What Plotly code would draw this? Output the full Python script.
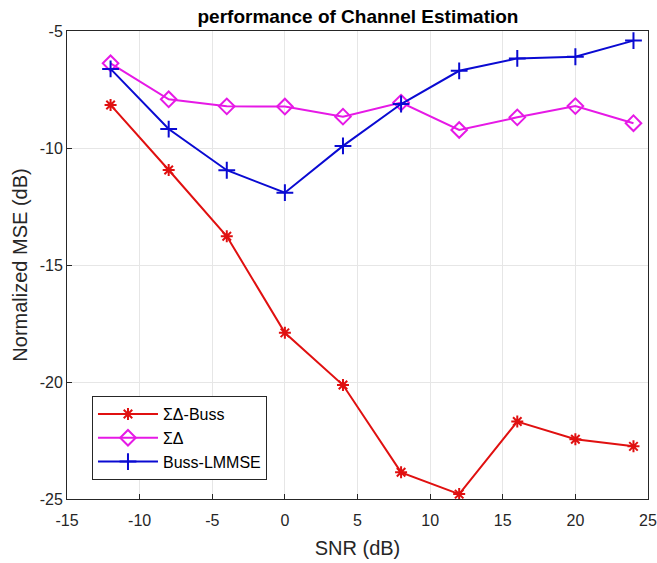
import plotly.graph_objects as go

snr = [-12, -8, -4, 0, 4, 8, 12, 16, 20, 24]
sd_buss = [-8.16, -10.94, -13.77, -17.9, -20.13, -23.86, -24.79, -21.69, -22.45, -22.75]
sd = [-6.38, -7.92, -8.22, -8.23, -8.66, -8.06, -9.23, -8.69, -8.21, -8.94]
buss_lmmse = [-6.62, -9.19, -10.95, -11.91, -9.91, -8.12, -6.70, -6.17, -6.10, -5.41]

x_ticks = [-15, -10, -5, 0, 5, 10, 15, 20, 25]
y_ticks = [-25, -20, -15, -10, -5]

names = ["ΣΔ-Buss", "ΣΔ", "Buss-LMMSE"]
colors = ["#e01010", "#e619e6", "#0a0ad2"]
symbols = ["asterisk-open", "diamond-open", "cross-thin-open"]
sizes = [10, 12, 12]

FONT = "Liberation Sans, Arial, Helvetica"

fig = go.Figure()
for y, n, c, s, sz in zip([sd_buss, sd, buss_lmmse], names, colors, symbols, sizes):
    fig.add_trace(go.Scatter(
        x=snr, y=y, name=n, mode="lines+markers",
        line=dict(color=c, width=2),
        marker=dict(symbol=s, size=sz, color=c, line=dict(color=c, width=2)),
    ))

axis_common = dict(
    showline=True, linecolor="#262626", linewidth=1, mirror=True,
    ticks="inside", ticklen=5, tickcolor="#262626",
    showgrid=True, gridcolor="#e6e6e6", gridwidth=1, zeroline=False,
    automargin=False,
    tickfont=dict(family=FONT, size=16, color="#262626"),
)

fig.update_layout(
    width=657, height=563,
    margin=dict(l=67, r=9, t=31, b=64),
    paper_bgcolor="white", plot_bgcolor="white",
    title=dict(text="<b>performance of Channel Estimation</b>", x=358 / 657, xanchor="center",
               y=1 - 16 / 563, yanchor="middle",
               font=dict(family=FONT, size=19, color="black")),
    xaxis=dict(range=[-15, 25], tickvals=x_ticks, ticktext=[str(v) for v in x_ticks],
               ticklabelstandoff=7,
               title=dict(text="SNR (dB)", standoff=12,
                          font=dict(family=FONT, size=20, color="#262626")),
               **axis_common),
    yaxis=dict(range=[-25, -5], tickvals=y_ticks, ticktext=[str(v) for v in y_ticks],
               title=dict(text="Normalized MSE (dB)", standoff=6,
                          font=dict(family=FONT, size=20, color="#262626")),
               **axis_common),
    legend=dict(x=0.043, y=0.22, xanchor="left", yanchor="top",
                bgcolor="white", bordercolor="#262626", borderwidth=1,
                font=dict(family=FONT, size=16, color="black"),
                itemwidth=60),
    showlegend=True,
)

fig.write_html("out.html")
